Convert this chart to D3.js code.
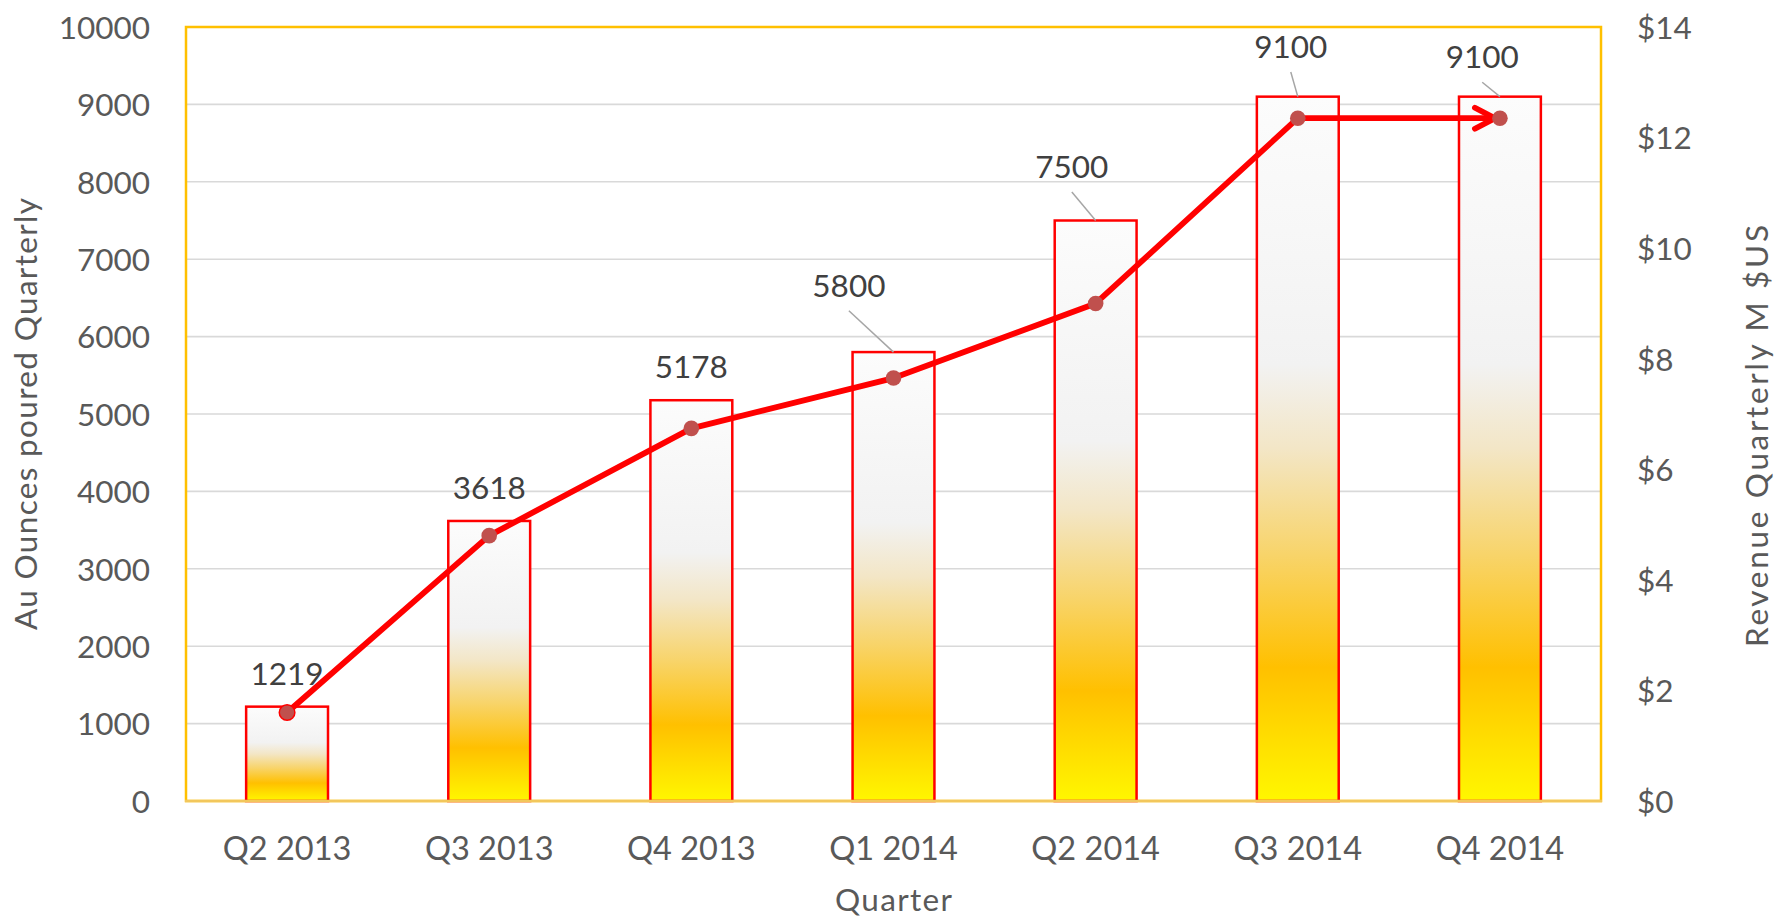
<!DOCTYPE html>
<html>
<head>
<meta charset="utf-8">
<script src="https://cdn.jsdelivr.net/npm/d3@7"></script>
<style>
  html, body { margin: 0; padding: 0; background: #fff; }
  svg { display: block; font-family: Lato, "Open Sans", sans-serif; }
</style>
</head>
<body>
<svg id="chart" width="1777" height="917"></svg>
<script>
// ---- data ----
const quarters = ["Q2 2013", "Q3 2013", "Q4 2013", "Q1 2014", "Q2 2014", "Q3 2014", "Q4 2014"];
const ounces = [1219, 3618, 5178, 5800, 7500, 9100, 9100];
const revenue = [1.60, 4.80, 6.74, 7.65, 9.00, 12.35, 12.35];
const leftTicks = [0, 1000, 2000, 3000, 4000, 5000, 6000, 7000, 8000, 9000, 10000];
const rightTicks = [0, 2, 4, 6, 8, 10, 12, 14];
const leftTitle = "Au Ounces poured Quarterly";
const rightTitle = "Revenue Quarterly M $US";
const xTitle = "Quarter";

// ---- layout (not data) ----
const P = { left: 186, right: 1601, top: 27, bottom: 801 };
// manual label shifts [dx, dy] for labels moved by hand (with leader lines)
const labelShift = [[0, 0], [0, 0], [0, 0], [-44.6, -33.4], [-23.8, -20.5], [-7, -16.7], [-17.7, -6.4]];

const svg = d3.select("#chart");
const FS = 31.5;

const x = d3.scaleBand().domain(quarters).range([P.left, P.right]).paddingInner(0).paddingOuter(0);
const yL = d3.scaleLinear().domain([0, 10000]).range([P.bottom, P.top]);
const yR = d3.scaleLinear().domain([0, 14]).range([P.bottom, P.top]);
const barW = x.bandwidth() * 0.405;
const cx = q => x(q) + x.bandwidth() / 2;

// defs
const defs = svg.append("defs");
const grad = defs.append("linearGradient").attr("id", "barGrad")
  .attr("x1", 0).attr("y1", 1).attr("x2", 0).attr("y2", 0);
[[0, "#FFF700"], [0.19, "#FFC000"], [0.35, "#F8D46A"], [0.5, "#F3E6C6"], [0.62, "#F2F2F2"], [1, "#FCFCFC"]]
  .forEach(([o, c]) => grad.append("stop").attr("offset", o).attr("stop-color", c));

defs.append("marker").attr("id", "arrow")
  .attr("viewBox", "-34 -17 40 34")
  .attr("markerUnits", "userSpaceOnUse")
  .attr("markerWidth", 40).attr("markerHeight", 34)
  .attr("refX", 0).attr("refY", 0)
  .attr("orient", "auto")
  .append("path")
  .attr("d", "M -25 -10.5 L -5 0 L -25 10.5")
  .attr("fill", "none").attr("stroke", "#FF0000")
  .attr("stroke-width", 5.8).attr("stroke-linecap", "round").attr("stroke-linejoin", "miter");

// gridlines
svg.append("g").selectAll("line")
  .data(leftTicks.filter(t => t > 0 && t < 10000))
  .join("line")
  .attr("x1", P.left).attr("x2", P.right)
  .attr("y1", d => yL(d)).attr("y2", d => yL(d))
  .attr("stroke", "#D9D9D9").attr("stroke-width", 1.6);

// plot border
svg.append("rect")
  .attr("x", P.left).attr("y", P.top)
  .attr("width", P.right - P.left).attr("height", P.bottom - P.top)
  .attr("fill", "none").attr("stroke", "#FFC000").attr("stroke-width", 2.5);

// bars
svg.append("g").selectAll("rect")
  .data(quarters)
  .join("rect")
  .attr("x", (d) => cx(d) - barW / 2)
  .attr("y", (d, i) => yL(ounces[i]))
  .attr("width", barW)
  .attr("height", (d, i) => yL(0) - yL(ounces[i]))
  .attr("fill", "url(#barGrad)")
  .attr("stroke", "#FF0000").attr("stroke-width", 2.5);

// bottom axis line
svg.append("line")
  .attr("x1", P.left - 1).attr("x2", P.right + 1)
  .attr("y1", P.bottom).attr("y2", P.bottom)
  .attr("stroke", "#F2C75C").attr("stroke-width", 2.5);

// leader lines
svg.append("g").selectAll("line")
  .data(quarters.map((q, i) => ({ q, i })).filter(d => labelShift[d.i][0] !== 0 || labelShift[d.i][1] !== 0))
  .join("line")
  .attr("x1", d => cx(d.q) + labelShift[d.i][0])
  .attr("y1", d => yL(ounces[d.i]) - 22 + labelShift[d.i][1] + 14)
  .attr("x2", d => cx(d.q))
  .attr("y2", d => yL(ounces[d.i]))
  .attr("stroke", "#A6A6A6").attr("stroke-width", 1.5);

// data labels
svg.append("g").selectAll("text")
  .data(quarters)
  .join("text")
  .attr("x", (d, i) => cx(d) + labelShift[i][0])
  .attr("y", (d, i) => yL(ounces[i]) - 22 + labelShift[i][1])
  .attr("text-anchor", "middle")
  .attr("font-size", FS)
  .attr("fill", "#404040")
  .text((d, i) => ounces[i]);

// revenue line
const line = d3.line().x(d => cx(d.q)).y(d => yR(d.v));
const pts = quarters.map((q, i) => ({ q, v: revenue[i] }));
svg.append("path")
  .datum(pts)
  .attr("d", line)
  .attr("fill", "none")
  .attr("stroke", "#FF0000")
  .attr("stroke-width", 5.8)
  .attr("stroke-linejoin", "round")
  .attr("marker-end", "url(#arrow)");

svg.append("g").selectAll("circle")
  .data(pts)
  .join("circle")
  .attr("cx", d => cx(d.q))
  .attr("cy", d => yR(d.v))
  .attr("r", 7.8)
  .attr("fill", "#C0504D")
  .attr("stroke", (d, i) => i === 0 ? "#FF0000" : "none")
  .attr("stroke-width", 1.5);

// axes
const axL = svg.append("g").attr("transform", `translate(${P.left},0)`)
  .call(d3.axisLeft(yL).tickValues(leftTicks).tickSize(0).tickPadding(36).tickFormat(d3.format("d")));
const axR = svg.append("g").attr("transform", `translate(${P.right},0)`)
  .call(d3.axisRight(yR).tickValues(rightTicks).tickSize(0).tickPadding(36).tickFormat(d => "$" + d));
const axB = svg.append("g").attr("transform", `translate(0,${P.bottom})`)
  .call(d3.axisBottom(x).tickSize(0));
[axL, axR, axB].forEach(a => {
  a.select(".domain").remove();
  a.selectAll("text").attr("font-size", FS).attr("fill", "#595959").attr("font-family", "Lato, 'Open Sans', sans-serif");
});
axL.selectAll("text").attr("dy", "0.36em");
axR.selectAll("text").attr("dy", "0.36em");
axB.selectAll("text").attr("y", 59).attr("dy", 0).attr("font-size", 32.5);

// axis titles
svg.append("text")
  .attr("transform", `translate(37,${(P.top + P.bottom) / 2}) rotate(-90)`)
  .attr("text-anchor", "middle").attr("font-size", FS).attr("fill", "#595959")
  .attr("textLength", 432).attr("lengthAdjust", "spacing")
  .text(leftTitle);
svg.append("text")
  .attr("transform", `translate(1768,436) rotate(-90)`)
  .attr("text-anchor", "middle").attr("font-size", FS).attr("fill", "#595959")
  .attr("textLength", 422).attr("lengthAdjust", "spacing")
  .text(rightTitle);
svg.append("text")
  .attr("x", (P.left + P.right) / 2).attr("y", 911)
  .attr("text-anchor", "middle").attr("font-size", FS).attr("fill", "#595959")
  .attr("textLength", 117).attr("lengthAdjust", "spacing")
  .text(xTitle);
</script>
</body>
</html>
